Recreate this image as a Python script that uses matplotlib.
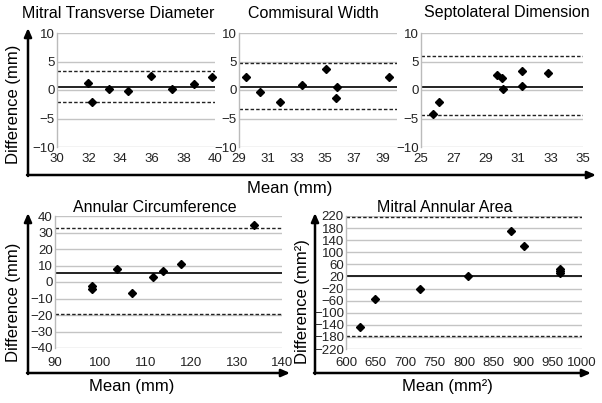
"""Bland-Altman panels: mitral annulus measurements"""
import matplotlib.pyplot as plt
import numpy as np

W, H = 602, 403

# Mitral Transverse Diameter
mtd_mean = [31.96, 32.2, 33.3, 34.5, 35.96, 37.3, 38.7, 39.8]
mtd_diff = [1.3, -2.1, 0.1, -0.2, 2.5, 0.1, 1.0, 2.2]
mtd_lines = [0.6, 3.3, -2.1]

# Commisural Width
cw_mean = [29.46, 30.46, 31.87, 33.38, 35.07, 35.83, 35.76, 39.46]
cw_diff = [2.2, -0.35, -2.1, 0.94, 3.65, 0.6, -1.4, 2.35]
cw_lines = [0.47, 4.7, -3.35]

# Septolateral Dimension
sl_mean = [25.72, 26.11, 29.69, 29.98, 30.04, 31.26, 31.24, 32.87]
sl_diff = [-4.24, -2.1, 2.65, 2.1, 0.24, 3.3, 0.7, 3.06]
sl_lines = [0.53, 5.9, -4.35]

# Annular Circumference
ac_mean = [98.2, 98.1, 103.6, 106.9, 111.5, 113.7, 117.7, 133.75]
ac_diff = [-2.4, -4.4, 7.8, -6.8, 3.2, 6.4, 10.7, 34.8]
ac_lines = [5.6, 32.6, -19.3]

# Mitral Annular Area
ma_mean = [623, 649, 725, 806, 879, 902, 963, 963, 963]
ma_diff = [-148.5, -55, -22, 22, 171.6, 120, 45, 37, 30]
ma_lines = [22, 218, -176]

TEXTFONT = ['Liberation Sans', 'DejaVu Sans']

fig = plt.figure(figsize=(W / 100, H / 100), dpi=100)


def px_axes(x0, y0, x1, y1):
    return fig.add_axes([x0 / W, 1 - y1 / H, (x1 - x0) / W, (y1 - y0) / H])


def panel(rect, xs, ys, lines, xlim, xticks, yticks, xpad):
    ax = px_axes(*rect)
    ax.set_xlim(*xlim)
    ax.set_ylim(min(yticks), max(yticks))
    for yt in yticks:
        ax.axhline(yt, color='#c4c4c4', lw=1.0, zorder=1)
    mean, up, lo = lines
    ax.axhline(mean, color='#222222', lw=1.4, zorder=2)
    ax.axhline(up, color='#222222', lw=1.0, ls=(0, (2.5, 1.5)), zorder=2)
    ax.axhline(lo, color='#222222', lw=1.0, ls=(0, (2.5, 1.5)), zorder=2)
    ax.plot(xs, ys, 'D', color='black', ms=4.5, zorder=3, clip_on=False)
    ax.set_xticks(xticks)
    ax.set_yticks(yticks)
    ax.tick_params(length=0, labelsize=9.5, colors='#222222')
    ax.tick_params(axis='y', pad=1.5)
    ax.tick_params(axis='x', pad=xpad)
    for lab in ax.get_xticklabels() + ax.get_yticklabels():
        lab.set_family(TEXTFONT)
    for s in ['top', 'right', 'bottom']:
        ax.spines[s].set_visible(False)
    ax.spines['left'].set_color('#bbbbbb')
    ax.spines['left'].set_linewidth(1.0)
    return ax


panel((57, 33, 215, 147), mtd_mean, mtd_diff, mtd_lines, (30, 40),
      np.arange(30, 41, 2), [-10, -5, 0, 5, 10], 4.5)
panel((239, 33, 397, 147), cw_mean, cw_diff, cw_lines, (29, 40),
      np.arange(29, 40, 2), [-10, -5, 0, 5, 10], 4.5)
panel((421, 33, 583, 147), sl_mean, sl_diff, sl_lines, (25, 35),
      np.arange(25, 36, 2), [-10, -5, 0, 5, 10], 4.5)
panel((55, 216, 282, 348), ac_mean, ac_diff, ac_lines, (90, 140),
      np.arange(90, 141, 10), list(range(-40, 41, 10)), 6.5)
panel((346, 216, 582, 349), ma_mean, ma_diff, ma_lines, (600, 1000),
      np.arange(600, 1001, 50), list(range(-220, 221, 40)), 6)

# overlay for the big axis arrows, titles and labels
ov = fig.add_axes([0, 0, 1, 1], zorder=-1)
ov.set_xlim(0, W)
ov.set_ylim(H, 0)
ov.axis('off')

arrow = dict(arrowstyle='-|>,head_length=0.5,head_width=0.22', color='black', lw=1.8,
             shrinkA=0, shrinkB=0)
for (x0, y0, x1, y1) in [(28, 176, 28, 28), (27, 175, 596, 175),
                         (28, 374, 28, 213), (27, 373, 290, 373),
                         (315, 374, 315, 213), (314, 373, 591, 373)]:
    ov.annotate('', xy=(x1, y1), xytext=(x0, y0), arrowprops=arrow)

titles = [('Mitral Transverse Diameter', 118, 13), ('Commisural Width', 313, 13),
          ('Septolateral Dimension', 507, 13), ('Annular Circumference', 155, 207),
          ('Mitral Annular Area', 445, 207)]
for t, x, y in titles:
    ov.text(x, y, t, ha='center', va='center', fontsize=11.5, family=TEXTFONT)

ov.text(14, 104, 'Difference (mm)', rotation=90, ha='center', va='center', fontsize=12, family=TEXTFONT)
ov.text(290, 189, 'Mean (mm)', ha='center', va='center', fontsize=12, family=TEXTFONT)
ov.text(14, 302, 'Difference (mm)', rotation=90, ha='center', va='center', fontsize=12, family=TEXTFONT)
ov.text(132, 386, 'Mean (mm)', ha='center', va='center', fontsize=12, family=TEXTFONT)
ov.text(303, 302, 'Difference (mm²)', rotation=90, ha='center', va='center', fontsize=12, family=TEXTFONT)
ov.text(447, 386, 'Mean (mm²)', ha='center', va='center', fontsize=12, family=TEXTFONT)

fig.savefig('out.png', dpi=100)
plt.close()
